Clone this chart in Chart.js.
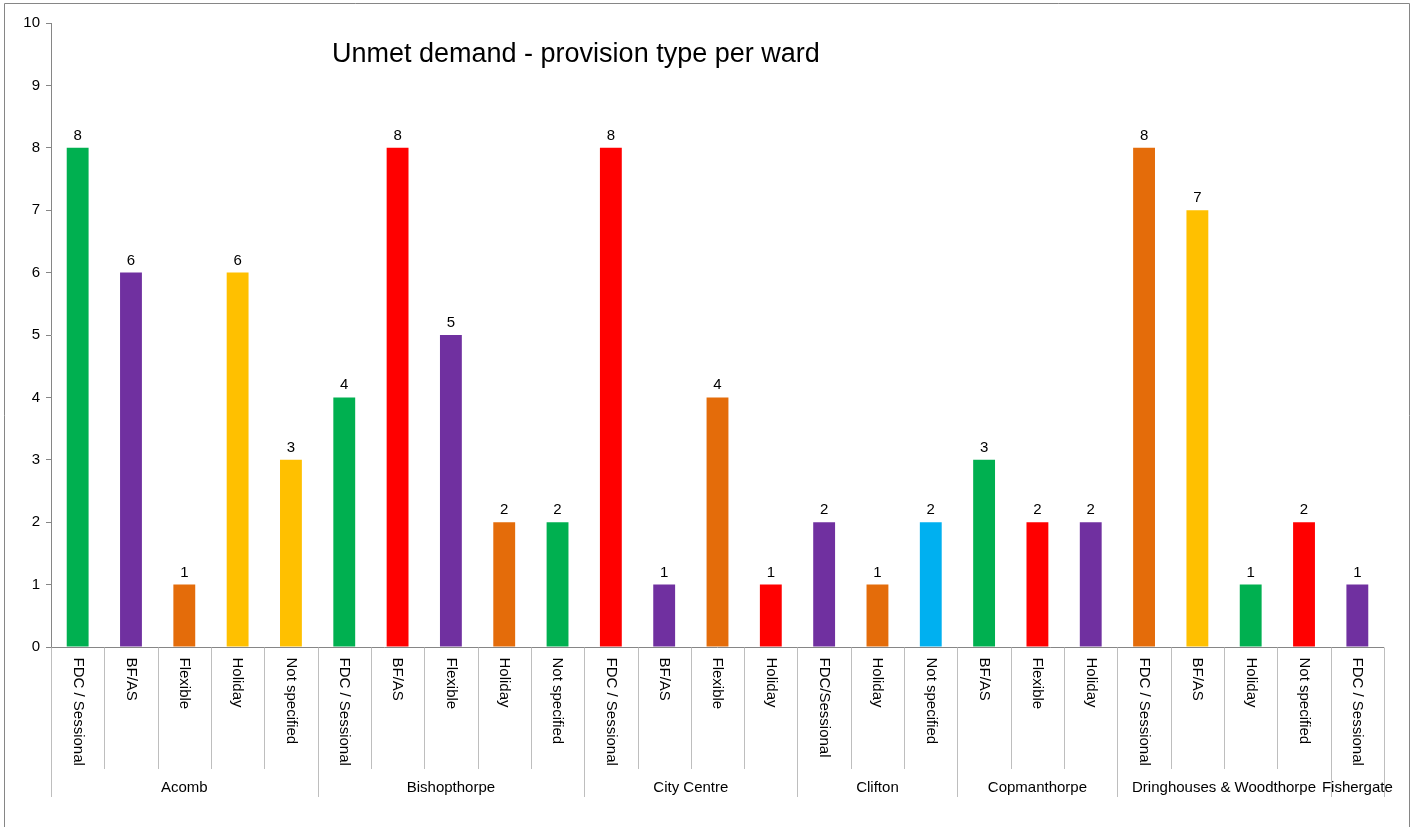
<!DOCTYPE html>
<html>
<head>
<meta charset="utf-8">
<script src="https://cdn.jsdelivr.net/npm/chart.js@4"></script>
<style>
  body { margin: 0; background: #fff; }
  #wrap { width: 1418px; height: 827px; }
</style>
</head>
<body>
<div id="wrap"><canvas id="myChart" width="1418" height="827"></canvas></div>
<script>
// provision type per bar, grouped by ward
var types = ["FDC / Sessional", "BF/AS", "Flexible", "Holiday", "Not specified",
             "FDC / Sessional", "BF/AS", "Flexible", "Holiday", "Not specified",
             "FDC / Sessional", "BF/AS", "Flexible", "Holiday",
             "FDC/Sessional", "Holiday", "Not specified",
             "BF/AS", "Flexible", "Holiday",
             "FDC / Sessional", "BF/AS", "Holiday", "Not specified",
             "FDC / Sessional"];
var values = [8, 6, 1, 6, 3,
              4, 8, 5, 2, 2,
              8, 1, 4, 1,
              2, 1, 2,
              3, 2, 2,
              8, 7, 1, 2,
              1];
var wards = ["Acomb", "Bishopthorpe", "City Centre", "Clifton", "Copmanthorpe", "Dringhouses & Woodthorpe", "Fishergate"];
var wardSizes = [5, 5, 4, 3, 3, 4, 1];
var barColors = ["#00B050", "#7030A0", "#E46C0A", "#FFC000", "#FFC000",
                 "#00B050", "#FF0000", "#7030A0", "#E46C0A", "#00B050",
                 "#FF0000", "#7030A0", "#E46C0A", "#FF0000",
                 "#7030A0", "#E46C0A", "#00B0F0",
                 "#00B050", "#FF0000", "#7030A0",
                 "#E46C0A", "#FFC000", "#00B050", "#FF0000",
                 "#7030A0"];
var yTicks = [0, 1, 2, 3, 4, 5, 6, 7, 8, 9, 10];

var FONT = "Liberation Sans, Arial, sans-serif";
var GREY = "#868686";

var excelAxis = {
  id: "excelAxis",
  beforeDraw: function(chart) {
    var c = chart.ctx;
    c.save();
    c.strokeStyle = GREY;
    c.lineWidth = 1;
    c.beginPath();
    c.moveTo(4.5, 840);
    c.lineTo(4.5, 3.5);
    c.lineTo(1409.5, 3.5);
    c.lineTo(1409.5, 840);
    c.stroke();
    c.restore();
  },
  afterDraw: function(chart) {
    var c = chart.ctx;
    var x = chart.scales.x, y = chart.scales.y;
    var area = chart.chartArea;
    var step = (area.right - area.left) / types.length;
    var base = Math.round(y.getPixelForValue(0)) + 0.5;
    c.save();
    // x axis line
    c.strokeStyle = GREY;
    c.lineWidth = 1;
    c.beginPath();
    c.moveTo(area.left, base);
    c.lineTo(area.right, base);
    c.stroke();
    // category separators
    var bounds = [0];
    var acc = 0;
    wardSizes.forEach(function(n) { acc += n; bounds.push(acc); });
    c.strokeStyle = "#BEBEBE";
    for (var i = 0; i <= types.length; i++) {
      var px = Math.round(area.left + i * step) + 0.5;
      var full = bounds.indexOf(i) >= 0;
      c.beginPath();
      c.moveTo(px, base);
      c.lineTo(px, full ? 797 : 769);
      c.stroke();
    }
    // rotated category labels
    c.fillStyle = "#000";
    c.font = "15px " + FONT;
    c.textAlign = "left";
    c.textBaseline = "middle";
    types.forEach(function(t, i) {
      var cx = x.getPixelForValue(i);
      c.save();
      c.translate(cx, base + 10);
      c.rotate(Math.PI / 2);
      c.fillText(t, 0, 0);
      c.restore();
    });
    // ward labels
    c.font = "15px " + FONT;
    c.textAlign = "center";
    for (var w = 0; w < wards.length; w++) {
      var mid = area.left + (bounds[w] + bounds[w + 1]) / 2 * step;
      c.fillText(wards[w], mid, 788);
    }
    // value labels
    c.textBaseline = "alphabetic";
    var meta = chart.getDatasetMeta(0);
    meta.data.forEach(function(bar, i) {
      c.fillText(String(values[i]), bar.x, bar.y - 8);
    });
    // title
    c.font = "27px " + FONT;
    c.textAlign = "left";
    c.textBaseline = "middle";
    c.fillText("Unmet demand - provision type per ward", 332, 55);
    c.restore();
  }
};

function createChart() {
  var ctx = document.getElementById("myChart");
  return new Chart(ctx, {
    type: "bar",
    data: {
      labels: types.map(function(t, i) { return i; }),
      datasets: [{
        data: values,
        backgroundColor: barColors,
        borderWidth: 0,
        barPercentage: 0.41,
        categoryPercentage: 1
      }]
    },
    options: {
      responsive: false,
      animation: false,
      layout: { padding: { left: 0, top: 23, right: 34, bottom: 180 } },
      plugins: { legend: { display: false }, tooltip: { enabled: false } },
      scales: {
        x: {
          ticks: { display: false },
          grid: { display: false },
          border: { display: false },
          afterFit: function(s) { s.height = 0; }
        },
        y: {
          min: 0,
          max: 10,
          afterBuildTicks: function(s) { s.ticks = yTicks.map(function(v) { return { value: v }; }); },
          afterFit: function(s) { s.width = 51; },
          ticks: { color: "#000", font: { family: FONT, size: 15 }, padding: 6 },
          grid: { drawOnChartArea: false, drawTicks: true, tickLength: 5, color: GREY },
          border: { display: true, color: GREY }
        }
      }
    },
    plugins: [excelAxis]
  });
}

createChart();
</script>
</body>
</html>
